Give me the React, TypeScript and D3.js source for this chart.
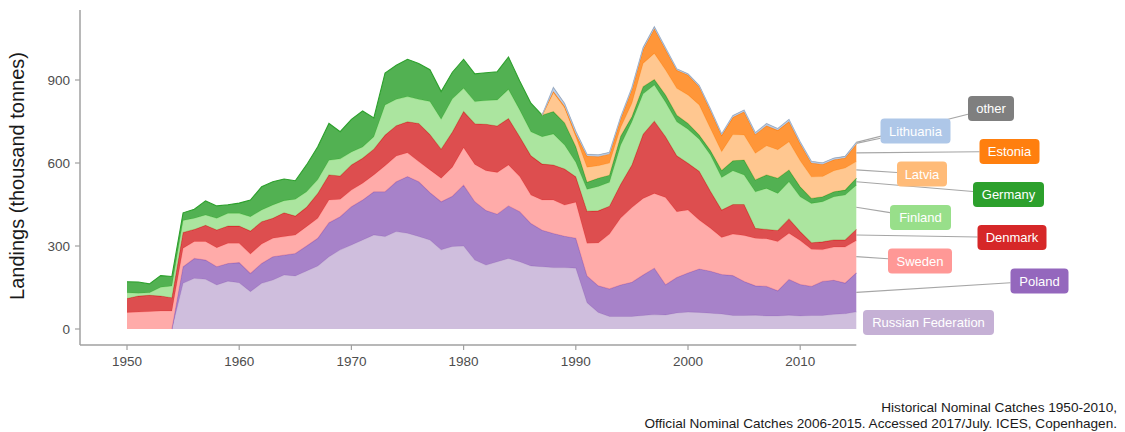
import React, { useEffect } from 'react';
import * as d3 from 'd3';

// ---------- DATA (thousand tonnes) ----------
const years: number[] = d3.range(1950, 2016);
const balticStartYear = 1987;

const russia = [null, null, null, null, 0,
  165, 183, 180, 159, 173, 167, 135, 165, 177, 195,
  192, 210, 228, 261, 286, 304, 322, 340, 334, 352,
  346, 334, 322, 286, 298, 300, 249, 231, 243, 255,
  243, 228, 225, 222, 222, 220, 95, 60, 45, 45,
  45, 49, 52, 51, 58, 61, 60, 57, 54, 49,
  49, 50, 47, 47, 50, 47, 49, 49, 53, 55,
  62];
const poland = [null, null, null, null, 0,
  60, 72, 69, 66, 64, 73, 66, 72, 84, 72,
  81, 90, 100, 123, 120, 138, 144, 156, 162, 180,
  205, 198, 171, 174, 182, 220, 211, 197, 172, 190,
  181, 153, 132, 123, 113, 108, 97, 96, 100, 114,
  124, 146, 168, 109, 128, 141, 157, 152, 143, 144,
  123, 106, 107, 91, 129, 114, 105, 123, 123, 111,
  141];
const sweden = [60, 61, 63, 65, 65,
  67, 61, 67, 69, 73, 70, 70, 70, 67, 67,
  67, 70, 72, 82, 63, 60, 61, 61, 94, 93,
  86, 73, 82, 85, 105, 135, 135, 144, 151, 148,
  127, 103, 109, 121, 113, 130, 118, 155, 198, 242,
  270, 277, 270, 315, 238, 228, 177, 155, 134, 150,
  166, 172, 172, 178, 167, 159, 134, 115, 120, 130,
  117];
const denmark = [50, 58, 59, 54, 48,
  57, 44, 59, 64, 62, 62, 83, 81, 72, 86,
  68, 70, 90, 91, 84, 91, 90, 93, 111, 110,
  112, 138, 128, 105, 127, 131, 147, 168, 168, 168,
  144, 142, 130, 127, 130, 92, 116, 116, 101, 122,
  154, 232, 261, 220, 202, 169, 176, 134, 99, 107,
  112, 36, 34, 40, 52, 32, 24, 28, 26, 26,
  40];
const finland = [21, 10, 9, 32, 42,
  43, 40, 37, 42, 46, 46, 52, 42, 48, 44,
  61, 56, 50, 53, 62, 47, 41, 45, 109, 95,
  91, 87, 119, 108, 120, 84, 80, 86, 94, 105,
  97, 87, 99, 112, 87, 53, 79, 88, 86, 142,
  156, 146, 131, 125, 123, 123, 116, 131, 118, 122,
  107, 132, 148, 134, 134, 126, 142, 145, 156, 162,
  160];
const germany = [40, 41, 32, 42, 35,
  28, 33, 51, 45, 31, 37, 60, 84, 84, 78,
  67, 97, 119, 133, 98, 118, 130, 68, 115, 123,
  135, 130, 115, 100, 96, 105, 100, 100, 102, 117,
  104, 103, 78, 81, 80, 56, 25, 30, 26, 32,
  18, 26, 20, 26, 24, 21, 15, 16, 25, 36,
  54, 43, 49, 55, 43, 36, 18, 18, 18, 18,
  25];
// from 1987 onwards
const latvia = [0, 69, 55, 36, 55, 45, 44, 31, 49, 84,
  94, 90, 97, 103, 109, 80, 68, 95, 90, 96,
  105, 103, 102, 94, 78, 73, 76, 80, 60];
const estonia = [0, 3, 5, 10, 40, 33, 32, 32, 50, 50,
  89, 74, 65, 72, 66, 65, 59, 62, 84, 68,
  73, 70, 73, 62, 50, 44, 40, 36, 63];
const lithuania = [0, 14, 9, 9, 6, 6, 6, 6, 6, 7,
  7, 6, 5, 4, 4, 5, 5, 6, 6, 6,
  7, 6, 7, 6, 5, 5, 5, 5, 6];
const other = [0, 2, 2, 2, 1, 1, 1, 1, 1, 1,
  1, 1, 1, 1, 1, 1, 1, 1, 1, 1,
  1, 1, 1, 1, 1, 1, 1, 1, 1];

const yTicks = [0, 300, 600, 900];
const xTicks = [1950, 1960, 1970, 1980, 1990, 2000, 2010];

const yTitle = 'Landings (thousand tonnes)';
const caption1 = 'Historical Nominal Catches 1950-2010,';
const caption2 = 'Official Nominal Catches 2006-2015. Accessed 2017/July. ICES, Copenhagen.';

const alignBaltic = (vals: number[]) => {
  const offset = balticStartYear - years[0];
  return years.map((_, i) => (i < offset ? null : vals[i - offset]));
};

const seriesNames = ['Russian Federation', 'Poland', 'Sweden', 'Denmark', 'Finland', 'Germany', 'Latvia', 'Estonia', 'Lithuania', 'other'];
const seriesValues: (number | null)[][] = [
  russia, poland, sweden, denmark, finland, germany,
  alignBaltic(latvia), alignBaltic(estonia), alignBaltic(lithuania), alignBaltic(other),
];
const seriesColors = ['#c5b0d5', '#9467bd', '#ff9896', '#d62728', '#98df8a', '#2ca02c', '#ffbb78', '#ff7f0e', '#aec7e8', '#7f7f7f'];
const lineOpacity = [1, 1, 1, 1, 1, 1, 1, 1, 1, 0.15];

// label layout (centre x, centre y, box width)
const labelLayout: Record<string, { cx: number; cy: number; w: number }> = {
  'other': { cx: 991, cy: 108.5, w: 46 },
  'Lithuania': { cx: 915.5, cy: 131, w: 70 },
  'Estonia': { cx: 1009.5, cy: 151.5, w: 60 },
  'Latvia': { cx: 922, cy: 174, w: 50 },
  'Germany': { cx: 1008.5, cy: 194.5, w: 71 },
  'Finland': { cx: 920.5, cy: 217.5, w: 61 },
  'Denmark': { cx: 1012, cy: 237.5, w: 69 },
  'Sweden': { cx: 920, cy: 261, w: 64 },
  'Poland': { cx: 1039.5, cy: 281, w: 58 },
  'Russian Federation': { cx: 928.5, cy: 322.5, w: 131 },
};

const FONT = "'Liberation Sans', Arial, Helvetica, sans-serif";

type Pt = { year: number; y0: number; y1: number; def: boolean };

export default function App() {
  useEffect(() => {
    document.body.style.margin = '0';
  }, []);

  const W = 1125, H = 432;
  const x = d3.scaleLinear().domain([1950, 2010]).range([127, 800.2]);
  const y = d3.scaleLinear().domain([0, 900]).range([329, 80]);

  // stack
  const cum = years.map(() => 0);
  const layers: Pt[][] = seriesValues.map((vals) =>
    years.map((yr, i) => {
      const v = vals[i];
      const y0 = cum[i];
      const y1 = y0 + (v == null ? 0 : v);
      cum[i] = y1;
      return { year: yr, y0, y1, def: v != null };
    })
  );

  const area = d3.area<Pt>().defined((d) => d.def).x((d) => x(d.year)).y0((d) => y(d.y0)).y1((d) => y(d.y1));
  const line = d3.line<Pt>().defined((d) => d.def).x((d) => x(d.year)).y((d) => y(d.y1));

  const lastYear = years[years.length - 1];
  const boxH = 25;

  const segments = seriesNames.map((name, si) => {
    const last = layers[si][layers[si].length - 1];
    const px = x(lastYear);
    const py = y((last.y0 + last.y1) / 2);
    const L = labelLayout[name];
    const left = L.cx - L.w / 2, right = L.cx + L.w / 2, top = L.cy - boxH / 2, bottom = L.cy + boxH / 2;
    const dx = L.cx - px, dy = L.cy - py;
    let tx = -Infinity, ty = -Infinity;
    if (dx > 0) tx = (left - px) / dx; else if (dx < 0) tx = (right - px) / dx;
    if (dy > 0) ty = (top - py) / dy; else if (dy < 0) ty = (bottom - py) / dy;
    let t = Math.max(tx, ty);
    t = Math.max(0, Math.min(1, t));
    const ex = px + t * dx, ey = py + t * dy;
    const len = Math.hypot(ex - px, ey - py);
    return { name, px, py, ex, ey, show: len > 8 };
  });

  const axisColor = '#a0a0a0';
  const tickText = '#4d4d4d';

  return (
    <svg width={W} height={H} style={{ display: 'block', background: '#fff' }} fontFamily={FONT}>
      {/* areas */}
      {layers.map((pts, i) => (
        <g key={seriesNames[i]}>
          <path d={area(pts) || ''} fill={seriesColors[i]} fillOpacity={0.82} stroke="none" />
          <path d={line(pts) || ''} fill="none" stroke={seriesColors[i]} strokeOpacity={lineOpacity[i]} strokeWidth={1.1} />
        </g>
      ))}

      {/* axes */}
      <line x1={80} x2={80} y1={10} y2={345} stroke={axisColor} strokeWidth={1.5} />
      <line x1={80} x2={x(lastYear)} y1={345} y2={345} stroke={axisColor} strokeWidth={1.5} />
      {yTicks.map((t) => (
        <g key={'y' + t}>
          <line x1={75} x2={80} y1={y(t)} y2={y(t)} stroke={axisColor} strokeWidth={1.2} />
          <text x={70} y={y(t)} dy="0.35em" textAnchor="end" fontSize={13.5} fill={tickText}>{t}</text>
        </g>
      ))}
      {xTicks.map((t) => (
        <g key={'x' + t}>
          <line x1={x(t)} x2={x(t)} y1={345} y2={350} stroke={axisColor} strokeWidth={1.2} />
          <text x={x(t)} y={366} textAnchor="middle" fontSize={13.5} fill={tickText}>{t}</text>
        </g>
      ))}
      <text transform="translate(24,176) rotate(-90)" textAnchor="middle" fontSize={20} fill="#1a1a1a">{yTitle}</text>

      {/* leader lines */}
      {segments.filter((s) => s.show).map((s) => (
        <line key={'seg' + s.name} x1={s.px} y1={s.py} x2={s.ex} y2={s.ey} stroke="#a6a6a6" strokeWidth={1.1} />
      ))}

      {/* labels */}
      {seriesNames.map((name, i) => {
        const L = labelLayout[name];
        return (
          <g key={'lab' + name}>
            <rect x={L.cx - L.w / 2} y={L.cy - boxH / 2} width={L.w} height={boxH} rx={4} ry={4} fill={seriesColors[i]} />
            <text x={L.cx} y={L.cy} dy="0.36em" textAnchor="middle" fontSize={13} fill="#ffffff">{name}</text>
          </g>
        );
      })}

      {/* caption */}
      <text x={1117} y={412} textAnchor="end" fontSize={13.6} fill="#1a1a1a">{caption1}</text>
      <text x={1117} y={428} textAnchor="end" fontSize={13.6} fill="#1a1a1a">{caption2}</text>
    </svg>
  );
}
